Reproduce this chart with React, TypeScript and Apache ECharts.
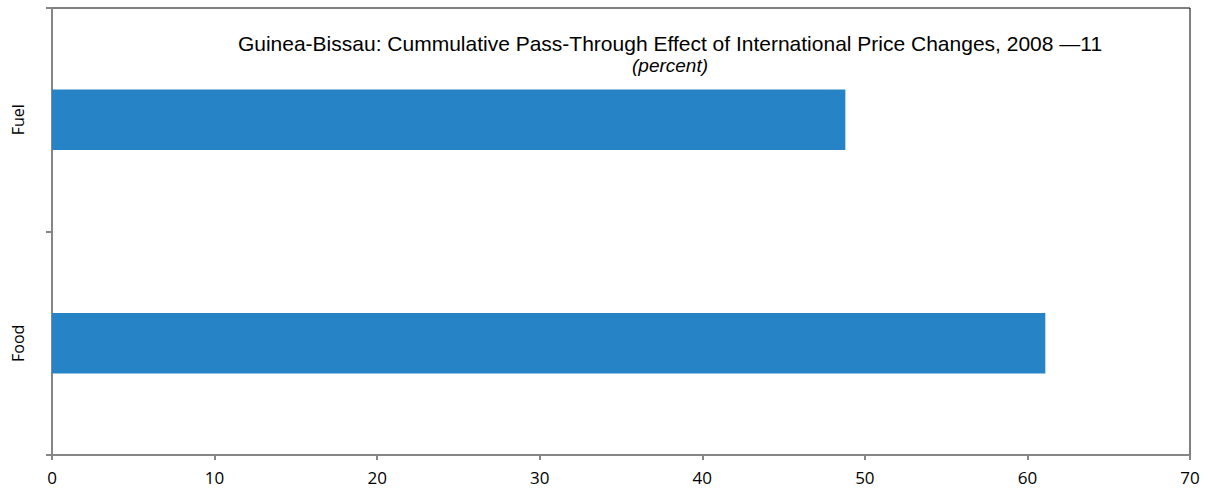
import React, { useEffect, useRef } from "react";
import * as echarts from "echarts";

const categories = ["Food", "Fuel"];
const values = [61.1, 48.8];
const titleText = "Guinea-Bissau: Cummulative Pass-Through Effect of International Price Changes, 2008 \u201411";
const subtitleText = "(percent)";

export default function App() {
  const ref = useRef<HTMLDivElement>(null);
  useEffect(() => {
    document.body.style.margin = "0";
    const chart = echarts.init(ref.current!, null, { renderer: "svg" });
    chart.setOption({
      animation: false,
      title: {
        text: titleText,
        subtext: subtitleText,
        left: 665,
        textAlign: "center",
        top: 28,
        itemGap: 2,
        textStyle: { fontFamily: "Liberation Sans", fontSize: 21, fontWeight: "normal", color: "#000" },
        subtextStyle: { fontFamily: "Liberation Sans", fontSize: 19, fontStyle: "italic", color: "#000" },
      },
      grid: {
        left: 52,
        right: 25,
        top: 8,
        bottom: 38,
        show: true,
        borderColor: "#000",
        borderWidth: 1,
      },
      xAxis: {
        type: "value",
        min: 0,
        max: 70,
        interval: 10,
        axisLine: { show: true, lineStyle: { color: "#868686", width: 2 } },
        axisTick: { show: true, length: 5, lineStyle: { color: "#868686", width: 2 } },
        splitLine: { show: false },
        axisLabel: { color: "#000", fontSize: 17, fontFamily: "Open Sans", margin: 14 },
      },
      yAxis: {
        type: "category",
        data: categories,
        axisLine: { show: true, lineStyle: { color: "#868686", width: 2 } },
        axisTick: { show: true, length: 6, lineStyle: { color: "#868686", width: 2 } },
        axisLabel: { color: "#000", fontSize: 16, fontFamily: "Open Sans", rotate: 90, margin: 26 },
      },
      series: [
        {
          type: "bar",
          data: values,
          barWidth: "27%",
          itemStyle: { color: "#2683C6" },
        },
      ],
    });
    return () => chart.dispose();
  }, []);
  return <div ref={ref} style={{ width: 1215, height: 493 }} />;
}
